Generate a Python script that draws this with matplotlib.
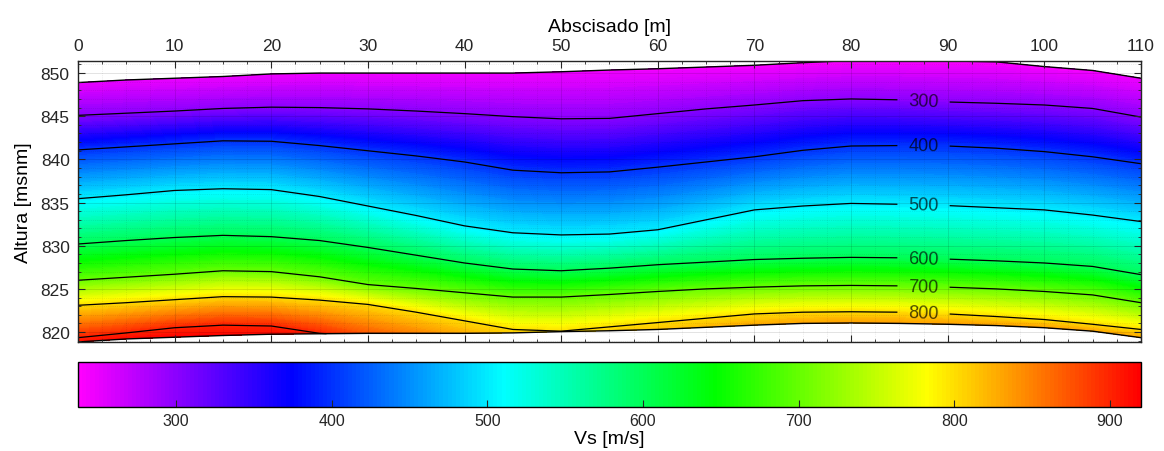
import numpy as np
import matplotlib
matplotlib.use('Agg')
import matplotlib.pyplot as plt
from matplotlib.colors import LinearSegmentedColormap, Normalize
from matplotlib.ticker import MultipleLocator

plt.rcParams['font.family'] = ['Liberation Sans', 'DejaVu Sans']
plt.rcParams['text.color'] = '#262626'
plt.rcParams['xtick.color'] = '#262626'
plt.rcParams['ytick.color'] = '#262626'

# abscisa stations [m]
dist = [0, 5, 10, 15, 20, 25, 30, 35, 40, 45, 50, 55,
        60, 65, 70, 75, 80, 85, 90, 95, 100, 105, 110]

# terrain surface and lower edge of the section [msnm]
topo = [848.9, 849.2, 849.4, 849.6, 849.9, 850.0, 850.0, 850.0, 850.0, 850.0, 850.15, 850.35,
        850.5, 850.7, 850.9, 851.2, 851.45, 851.45, 851.4, 851.3, 850.75, 850.3, 849.4]
base = [818.85, 819.2, 819.4, 819.6, 819.75, 819.8, 819.85, 819.85, 819.85, 819.9, 820.05, 820.15,
        820.3, 820.55, 820.8, 821.0, 821.05, 821.0, 820.9, 820.75, 820.5, 820.1, 819.35]

# Vs on the surface and on the lower edge [m/s]
vs_top = [248, 248, 247, 246, 245, 245, 245, 245, 245, 245, 245, 244,
          243, 242, 241, 240, 240, 240, 240, 240, 241, 242, 245]
vs_base = [912, 914, 916, 916, 914, 905, 870, 848, 825, 808, 801, 806,
           814, 822, 828, 832, 834, 834, 834, 833, 832, 830, 828]

# elevation of the iso-velocity lines [msnm] (nan = line not present)
nan = np.nan
z900 = [819.35, 819.9, 820.5, 820.8, 820.7, 819.85, nan, nan, nan, nan, nan, nan,
        nan, nan, nan, nan, nan, nan, nan, nan, nan, nan, nan]
z800 = [823.1, 823.4, 823.75, 824.1, 824.05, 823.7, 823.2, 822.3, 821.3, 820.3, 820.1, 820.6,
        821.1, 821.6, 822.1, 822.3, 822.35, 822.3, 822.1, 821.8, 821.45, 820.9, 820.3]
z700 = [826.0, 826.35, 826.7, 827.1, 827.0, 826.4, 825.5, 825.05, 824.55, 824.05, 824.05, 824.35,
        824.7, 825.0, 825.2, 825.35, 825.4, 825.35, 825.2, 825.0, 824.7, 824.3, 823.4]
z600 = [830.2, 830.6, 830.95, 831.2, 831.05, 830.6, 829.8, 828.9, 828.0, 827.3, 827.1, 827.4,
        827.8, 828.1, 828.4, 828.55, 828.65, 828.6, 828.45, 828.25, 828.0, 827.6, 826.65]
z500 = [835.45, 835.9, 836.4, 836.6, 836.5, 835.7, 834.6, 833.5, 832.3, 831.5, 831.25, 831.35,
        831.85, 833.0, 834.15, 834.6, 834.9, 834.8, 834.65, 834.4, 834.15, 833.55, 832.8]
z400 = [841.1, 841.45, 841.8, 842.15, 842.1, 841.6, 841.0, 840.4, 839.7, 838.75, 838.45, 838.55,
        839.1, 839.7, 840.3, 841.05, 841.55, 841.6, 841.55, 841.3, 840.9, 840.3, 839.5]
z300 = [845.1, 845.35, 845.6, 845.9, 846.05, 846.0, 845.85, 845.6, 845.3, 844.95, 844.7, 844.75,
        845.3, 845.85, 846.3, 846.8, 847.0, 846.9, 846.65, 846.5, 846.3, 845.9, 844.9]

iso_levels = [900, 800, 700, 600, 500, 400, 300]
iso_lines = [z900, z800, z700, z600, z500, z400, z300]
label_levels = [300, 400, 500, 600, 700, 800]

VMIN, VMAX = 237, 920
cbar_ticks = [300, 400, 500, 600, 700, 800, 900]

# ---- build the section mesh (rows: base, iso lines, surface) ----
x = np.array(dist, float)
zb = np.array(base, float)
vb = np.array(vs_base, float)
rows_z = [zb]
rows_v = [vb]
for lev, zl in zip(iso_levels, iso_lines):
    zl = np.array(zl, float)
    miss = np.isnan(zl)
    rows_z.append(np.where(miss, zb, zl))
    rows_v.append(np.where(miss, vb, float(lev)))
rows_z.append(np.array(topo, float))
rows_v.append(np.array(vs_top, float))
Z = np.vstack(rows_z)
V = np.vstack(rows_v)
X = np.tile(x, (Z.shape[0], 1))

cmap = LinearSegmentedColormap.from_list(
    'vs', ['#ff00ff', '#0000ff', '#00ffff', '#00ff00', '#ffff00', '#ff0000'], N=256)

fig = plt.figure(figsize=(11.64, 4.52), dpi=100)
ax = fig.add_axes([0.067, 0.2412, 0.9132, 0.6217])

ax.contourf(X, Z, V, levels=np.linspace(VMIN, VMAX, 220), cmap=cmap,
            vmin=VMIN, vmax=VMAX, antialiased=False, zorder=0)
cs = ax.contour(X, Z, V, levels=sorted(iso_levels), colors='k', linewidths=0.9, zorder=2)

label_x = 87.5
pos = []
for lev in label_levels:
    zl = iso_lines[iso_levels.index(lev)]
    pos.append((label_x, np.interp(label_x, x, zl)))
labs = ax.clabel(cs, levels=label_levels, manual=pos, inline=True, inline_spacing=11,
                 fmt='%d', fontsize=13, colors='k')
for t in labs:
    t.set_alpha(0.7)

# outline of the section
ax.plot(x, topo, color='k', lw=1.0, zorder=2)
ax.plot(x, base, color='k', lw=1.0, zorder=2)

ax.set_xlim(0, 110)
ax.set_ylim(818.85, 851.4)
ax.xaxis.set_major_locator(MultipleLocator(10))
ax.xaxis.set_minor_locator(MultipleLocator(2.5))
ax.yaxis.set_major_locator(MultipleLocator(5))
ax.yaxis.set_minor_locator(MultipleLocator(1))
ax.tick_params(which='both', direction='in', top=True, bottom=True, left=True, right=True,
               labeltop=True, labelbottom=False, labelsize=12.5)
ax.tick_params(which='major', length=5, pad=6)
ax.tick_params(which='minor', length=2.5)
ax.xaxis.set_label_position('top')
ax.set_xlabel('Abscisado [m]', fontsize=14, labelpad=5)
ax.set_ylabel('Altura [msnm]', fontsize=14, labelpad=6)
ax.set_axisbelow(False)
ax.grid(True, which='major', color='k', alpha=0.13, lw=0.6)
ax.grid(True, which='minor', color='k', alpha=0.13, lw=0.5, ls=':')
for s in ax.spines.values():
    s.set_linewidth(1.0)
    s.set_color('#262626')

cax = fig.add_axes([0.067, 0.0973, 0.9132, 0.0996])
sm = plt.cm.ScalarMappable(norm=Normalize(VMIN, VMAX), cmap=cmap)
cb = fig.colorbar(sm, cax=cax, orientation='horizontal')
cb.set_ticks(cbar_ticks)
cax.tick_params(direction='in', length=5, labelsize=11.5, pad=4, color='#262626')
cb.outline.set_linewidth(1.0)
cb.set_label('Vs [m/s]', fontsize=14, labelpad=2)

fig.savefig('out.png', dpi=100)
